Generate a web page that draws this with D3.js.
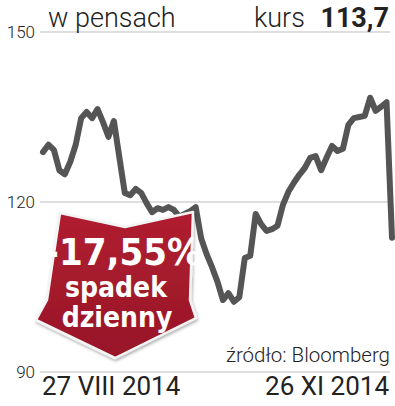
<!DOCTYPE html>
<html lang="pl">
<head>
<meta charset="UTF-8">
<title>kurs</title>
<script src="https://d3js.org/d3.v7.min.js"></script>
<style>
    body { margin: 0; padding: 0; background: #fff; }
    svg { display: block; }
    .light { font-family: Roboto, sans-serif; font-weight: 300; fill: #222; }
</style>
</head>
<body>
<div id="chart"></div>
<script>
// kurs w pensach, 27 VIII 2014 - 26 XI 2014 (notowania dzienne)
const prices = [
    128.8, 130.1, 129.2, 125.6, 124.9, 127.1, 130.1, 134.8, 135.9, 134.8,
    136.4, 134.1, 131.5, 134.3, 127.9, 121.6, 121.2, 122.3, 121.6, 119.8,
    118.2, 118.9, 118.6, 119.1, 118.6, 117.4, 117.9, 118.4, 119.1, 113.6,
    110.8, 108.5, 105.9, 102.7, 103.9, 102.4, 103.2, 110.1, 110.5, 117.9,
    116.1, 114.9, 115.2, 115.8, 119.5, 121.8, 123.4, 124.8, 126.0, 127.8,
    128.1, 125.6, 127.8, 129.9, 129.0, 129.4, 133.6, 134.8, 135.0, 135.2,
    138.4, 136.1, 136.8, 137.6, 113.7
];
const yTicks = [90, 120, 150];
const dateLabels = ["27 VIII 2014", "26 XI 2014"];
const lastPrice = "113,7";
const dropLabel = ["-17,55%", "spadek", "dzienny"];

const W = 395, H = 406;
const svg = d3.select("#chart").append("svg")
    .attr("width", W)
    .attr("height", H);

const x = d3.scaleLinear().domain([0, prices.length - 1]).range([43, 392]);
const y = d3.scaleLinear().domain([90, 150]).range([372, 32]);

// siatka
svg.selectAll(".grid")
    .data(yTicks)
    .enter().append("line")
    .attr("x1", 40).attr("x2", 390)
    .attr("y1", d => y(d)).attr("y2", d => y(d))
    .attr("stroke", "#bdbdbd")
    .attr("stroke-width", 1.2);

svg.selectAll(".ylab")
    .data(yTicks)
    .enter().append("text")
    .attr("class", "light")
    .attr("x", 35)
    .attr("y", d => y(d) + 6)
    .attr("text-anchor", "end")
    .attr("font-size", 17)
    .text(d => d);

// naglowek
svg.append("text").attr("class", "light")
    .attr("x", 48).attr("y", 27)
    .attr("font-size", 27)
    .text("w pensach");
svg.append("text").attr("class", "light")
    .attr("x", 254).attr("y", 27)
    .attr("font-size", 27)
    .attr("font-weight", 400)
    .text("kurs");
svg.append("text")
    .attr("x", 389).attr("y", 27)
    .attr("text-anchor", "end")
    .attr("font-family", "Roboto, sans-serif")
    .attr("font-weight", 700)
    .attr("font-size", 27)
    .attr("fill", "#222")
    .text(lastPrice);

// linia kursu
const line = d3.line()
    .x((d, i) => x(i))
    .y(d => y(d));

svg.append("path")
    .datum(prices)
    .attr("d", line)
    .attr("fill", "none")
    .attr("stroke", "#555")
    .attr("stroke-width", 6)
    .attr("stroke-linejoin", "round")
    .attr("stroke-linecap", "round");

// strzalka
const defs = svg.append("defs");
const grad = defs.append("linearGradient")
    .attr("id", "red").attr("x1", 0).attr("y1", 0).attr("x2", 0).attr("y2", 1);
grad.append("stop").attr("offset", "0%").attr("stop-color", "#b01d30");
grad.append("stop").attr("offset", "100%").attr("stop-color", "#981728");
const shadow = defs.append("filter").attr("id", "shadow")
    .attr("x", "-20%").attr("y", "-20%").attr("width", "140%").attr("height", "140%");
shadow.append("feDropShadow")
    .attr("dx", 1).attr("dy", 2).attr("stdDeviation", 1.5)
    .attr("flood-color", "#000").attr("flood-opacity", 0.3);

const arrowPts = [[60, 213], [125, 227], [193, 212], [190, 300], [196, 318],
                  [115, 358], [36, 320], [47, 300]];
svg.append("path")
    .attr("d", "M" + arrowPts.join("L") + "Z")
    .attr("fill", "url(#red)")
    .attr("stroke", "#f4f4f4")
    .attr("stroke-width", 2.5)
    .attr("stroke-linejoin", "round")
    .attr("filter", "url(#shadow)");

const arrowText = svg.append("g")
    .attr("font-family", "'Liberation Sans Narrow', 'DejaVu Sans Condensed', sans-serif")
    .attr("font-weight", 700)
    .attr("fill", "#fff")
    .attr("text-anchor", "middle");
arrowText.append("text").attr("x", 123).attr("y", 265)
    .attr("font-size", 38).text(dropLabel[0]);
arrowText.append("text").attr("x", 116).attr("y", 297)
    .attr("font-size", 28).text(dropLabel[1]);
arrowText.append("text").attr("x", 117).attr("y", 327)
    .attr("font-size", 28).text(dropLabel[2]);

// zrodlo i daty
svg.append("text").attr("class", "light")
    .attr("x", 390).attr("y", 362)
    .attr("text-anchor", "end")
    .attr("font-size", 20.5)
    .text("źródło: Bloomberg");

svg.selectAll(".date")
    .data(dateLabels)
    .enter().append("text")
    .attr("x", (d, i) => i === 0 ? 42 : 389)
    .attr("y", 395)
    .attr("text-anchor", (d, i) => i === 0 ? "start" : "end")
    .attr("font-family", "Roboto, sans-serif")
    .attr("font-size", 26)
    .attr("fill", "#222")
    .text(d => d);
</script>
</body>
</html>
